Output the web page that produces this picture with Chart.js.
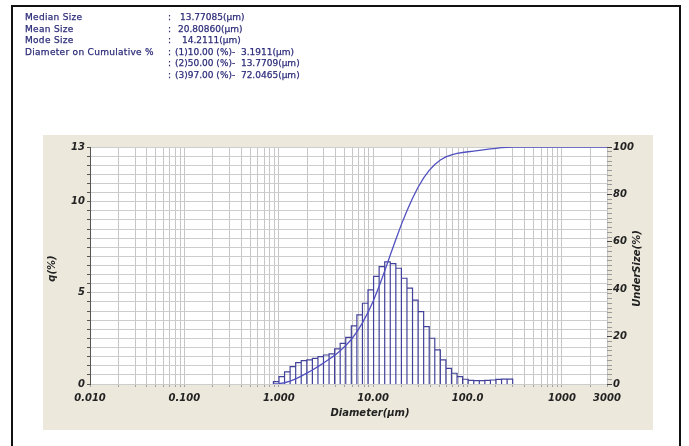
<!DOCTYPE html>
<html>
<head>
<meta charset="utf-8">
<script src="https://cdn.jsdelivr.net/npm/chart.js@4.4.1/dist/chart.umd.min.js"></script>
<style>
  html, body { margin: 0; padding: 0; background: #fff; }
  #wrap { position: relative; width: 689px; height: 446px; overflow: hidden; }
  #frame { position: absolute; left: 11px; top: 5px; width: 670px; height: 470px; border: 2px solid #111; box-sizing: border-box; }
  canvas { position: absolute; left: 0; top: 0; }
  .info { position: absolute; left: 0; top: 12px; font: 9px "DejaVu Sans", sans-serif; color: #2c2c7a; -webkit-text-stroke: 0.25px #2c2c7a; }
  .row { position: relative; height: 11.5px; white-space: pre; }
  .row span { position: absolute; top: 0; }
  .lbl { letter-spacing: 0.3px; }
</style>
</head>
<body>
<div id="wrap">
  <div id="frame"></div>
  <canvas id="psd" width="689" height="446"></canvas>
  <div class="info">
    <div class="row"><span class="lbl" style="left:25px">Median Size</span><span style="left:168px">:</span><span style="left:180px">13.77085(µm)</span></div>
    <div class="row"><span class="lbl" style="left:25px">Mean Size</span><span style="left:168px">:</span><span style="left:178px">20.80860(µm)</span></div>
    <div class="row"><span class="lbl" style="left:25px">Mode Size</span><span style="left:168px">:</span><span style="left:182px">14.2111(µm)</span></div>
    <div class="row"><span class="lbl" style="left:25px">Diameter on Cumulative %</span><span style="left:168px">:</span><span style="left:175px">(1)10.00 (%)-  3.1911(µm)</span></div>
    <div class="row"><span style="left:168px">:</span><span style="left:175px">(2)50.00 (%)-  13.7709(µm)</span></div>
    <div class="row"><span style="left:168px">:</span><span style="left:175px">(3)97.00 (%)-  72.0465(µm)</span></div>
  </div>
</div>
<script>
// channel edges (um), frequency q(%) per channel, cumulative undersize (%) at each edge
const binEdges = [0.877, 1.005, 1.151, 1.318, 1.510, 1.729, 1.981, 2.269, 2.599, 2.976,
  3.409, 3.905, 4.472, 5.122, 5.867, 6.720, 7.697, 8.816, 10.097, 11.565,
  13.246, 15.172, 17.377, 19.904, 22.797, 26.111, 29.907, 34.255, 39.234, 44.938,
  51.471, 58.953, 67.523, 77.339, 88.583, 101.46, 116.21, 133.10, 152.45, 174.62,
  200.00, 229.07, 262.38, 300.52];
const qValues = [0.13, 0.40, 0.67, 0.95, 1.17, 1.28, 1.32, 1.41, 1.50, 1.59,
  1.65, 1.93, 2.23, 2.56, 3.19, 3.79, 4.43, 5.16, 5.90, 6.44,
  6.70, 6.60, 6.35, 5.80, 5.26, 4.60, 3.97, 3.15, 2.51, 1.87,
  1.32, 0.86, 0.59, 0.40, 0.26, 0.20, 0.18, 0.18, 0.20, 0.22,
  0.25, 0.27, 0.27];
const underSize = [0, 0.13, 0.53, 1.2, 2.15, 3.32, 4.6, 5.92, 7.33, 8.83,
  10.42, 12.07, 14.0, 16.23, 18.79, 21.98, 25.77, 30.2, 35.36, 41.26,
  47.7, 54.4, 61.0, 67.35, 73.15, 78.41, 83.01, 86.98, 90.13, 92.64,
  94.51, 95.83, 96.69, 97.28, 97.68, 98.0, 98.3, 98.6, 98.9, 99.2,
  99.45, 99.7, 99.9, 100];

const xTicks = [0.01, 0.1, 1, 10, 100, 1000, 3000];
const xTickLabels = ['0.010', '0.100', '1.000', '10.00', '100.0', '1000', '3000'];
const qTicks = [0, 5, 10, 13];
const underTicks = [0, 20, 40, 60, 80, 100];

const X_MIN = 0.01, X_MAX = 3000, Q_MAX = 13;

// histogram outline: each channel as a closed bar down to zero
const histPoints = [];
qValues.forEach(function (v, i) {
  histPoints.push({x: binEdges[i], y: 0}, {x: binEdges[i], y: v}, {x: binEdges[i + 1], y: v});
});
histPoints.push({x: binEdges[binEdges.length - 1], y: 0});

const cumPoints = binEdges.map(function (d, i) { return {x: d, y: underSize[i]}; });
cumPoints.push({x: X_MAX, y: 100});

// log grid 1..9 per decade
const xGrid = [];
for (let e = -2; e <= 3; e++) {
  for (let m = 1; m <= 9; m++) {
    const v = +(m * Math.pow(10, e)).toPrecision(6);
    if (v <= X_MAX) xGrid.push(v);
  }
}

const tickFont = {family: 'DejaVu Sans', size: 10, weight: 'bold', style: 'italic'};

function sameVal(a, b) { return Math.abs(a - b) < 1e-9 * Math.max(1, Math.abs(b)); }

const panelPlugin = {
  id: 'panel',
  beforeDraw: function (chart) {
    const ctx = chart.ctx, a = chart.chartArea;
    ctx.save();
    ctx.fillStyle = '#ece9dc';
    ctx.fillRect(43, 135, 610, 295);
    ctx.fillStyle = '#ffffff';
    ctx.fillRect(a.left, a.top, a.right - a.left, a.bottom - a.top);
    ctx.restore();
  },
  afterDraw: function (chart) {
    const ctx = chart.ctx, a = chart.chartArea;
    const midY = (a.top + a.bottom) / 2;
    ctx.save();
    ctx.fillStyle = '#222';
    ctx.font = 'italic bold 10px "DejaVu Sans"';
    ctx.textAlign = 'center';
    ctx.textBaseline = 'middle';
    ctx.fillText('Diameter(µm)', 370, 413);
    ctx.translate(52, midY + 3);
    ctx.rotate(-Math.PI / 2);
    ctx.fillText('q(%)', 0, 0);
    ctx.restore();
    ctx.save();
    ctx.fillStyle = '#222';
    ctx.font = 'italic bold 10px "DejaVu Sans"';
    ctx.textAlign = 'center';
    ctx.textBaseline = 'middle';
    ctx.translate(637, midY + 3);
    ctx.rotate(-Math.PI / 2);
    ctx.fillText('UnderSize(%)', 0, 0);
    ctx.restore();
  }
};

new Chart(document.getElementById('psd'), {
  type: 'line',
  data: {
    datasets: [{
      label: 'UnderSize',
      data: cumPoints,
      yAxisID: 'y2',
      borderColor: '#5050c0',
      borderWidth: 1.3,
      pointRadius: 0,
      tension: 0,
      fill: false
    }, {
      label: 'q',
      data: histPoints,
      yAxisID: 'y',
      borderColor: '#42429a',
      borderWidth: 1.2,
      pointRadius: 0,
      tension: 0,
      fill: false
    }]
  },
  options: {
    responsive: false,
    animation: false,
    events: [],
    layout: {padding: {top: 147, left: 0, right: 0, bottom: 0}},
    plugins: {legend: {display: false}, tooltip: {enabled: false}},
    scales: {
      x: {
        type: 'logarithmic',
        position: 'bottom',
        min: X_MIN,
        max: X_MAX,
        afterBuildTicks: function (s) { s.ticks = xGrid.map(function (v) { return {value: v}; }); },
        afterFit: function (s) { s.height = 62; },
        ticks: {
          autoSkip: false,
          maxRotation: 0,
          padding: 5,
          color: '#222',
          font: tickFont,
          callback: function (v) {
            for (let i = 0; i < xTicks.length; i++) if (sameVal(v, xTicks[i])) return xTickLabels[i];
            return '';
          }
        },
        grid: {color: '#c6c6c6', tickColor: '#a0a0a0', tickLength: 3},
        border: {display: false}
      },
      y: {
        position: 'left',
        min: 0,
        max: Q_MAX,
        afterBuildTicks: function (s) {
          const t = [];
          for (let v = 0; v <= Q_MAX; v += 0.5) t.push({value: v});
          s.ticks = t;
        },
        afterFit: function (s) { s.width = 90; },
        ticks: {
          autoSkip: false,
          padding: 2,
          color: '#222',
          font: tickFont,
          callback: function (v) { return qTicks.indexOf(v) >= 0 ? String(v) : ''; }
        },
        grid: {color: '#cdcdcd', tickColor: '#555', tickLength: 3},
        border: {display: true, color: '#555', width: 1}
      },
      y2: {
        position: 'right',
        min: 0,
        max: 100,
        afterBuildTicks: function (s) {
          const t = [];
          for (let v = 0; v <= 100; v += 2) t.push({value: v});
          s.ticks = t;
        },
        afterFit: function (s) { s.width = 82; },
        ticks: {
          autoSkip: false,
          padding: 1,
          color: '#222',
          font: tickFont,
          callback: function (v) { return underTicks.indexOf(v) >= 0 ? String(v) : ''; }
        },
        grid: {
          drawOnChartArea: false,
          tickLength: 5,
          tickColor: function (c) { return c.tick && underTicks.indexOf(c.tick.value) >= 0 ? '#444' : '#999'; }
        },
        border: {display: false}
      }
    }
  },
  plugins: [panelPlugin]
});
</script>
</body>
</html>
